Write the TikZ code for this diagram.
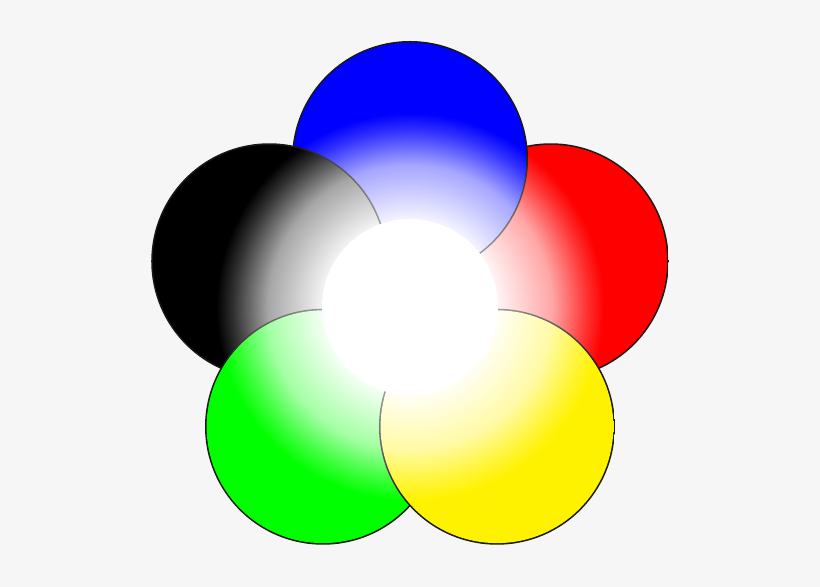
\documentclass[tikz,border=0pt]{standalone}
\usepackage{tikz}
\usetikzlibrary{calc}
\definecolor{bgcol}{RGB}{246,246,246}
\definecolor{petalyellow}{RGB}{255,242,0}
\colorlet{petalcol}{blue}
\colorlet{petalmid}{blue!35!white}
\colorlet{petalhi}{blue!80!white}
% white core fading out to the petal colour
\pgfdeclareradialshading[petalcol,petalmid,petalhi]{petal}{\pgfpoint{0bp}{0bp}}{color(0bp)=(white); color(5.4bp)=(white); color(9.6bp)=(petalmid); color(11.9bp)=(petalhi); color(13.1bp)=(petalcol); color(50bp)=(petalcol)}
% outline, light near the middle
\pgfdeclareradialshading{rim}{\pgfpoint{0bp}{0bp}}{color(0bp)=(black!30); color(5.4bp)=(black!35); color(9.6bp)=(black!60); color(13.1bp)=(black!90); color(50bp)=(black!90)}
\tikzset{core/.style={fill=white}}

\begin{document}
\begin{tikzpicture}
 \useasboundingbox[fill=bgcol] (-10.25,-7.0) rectangle (10.25,7.675);
 \coordinate (mid) at (0,0);
 \foreach \ang/\col in {18/red,90/blue,162/black,234/green,306/petalyellow}{
  \coordinate (p\ang) at (\ang:3.7);
  \colorlet{petalcol}{\col}
  \colorlet{petalmid}{\col!35!white}
  \colorlet{petalhi}{\col!80!white}
  \begin{scope}
   \clip (p\ang) circle (2.95);
   \shade[shading=rim] (mid) circle (9.25);
   \clip (p\ang) circle (2.91);
   \shade[shading=petal] (mid) circle (9.25);
  \end{scope}
 }
 \fill[core] (mid) circle (2.2);
\end{tikzpicture}
\end{document}
